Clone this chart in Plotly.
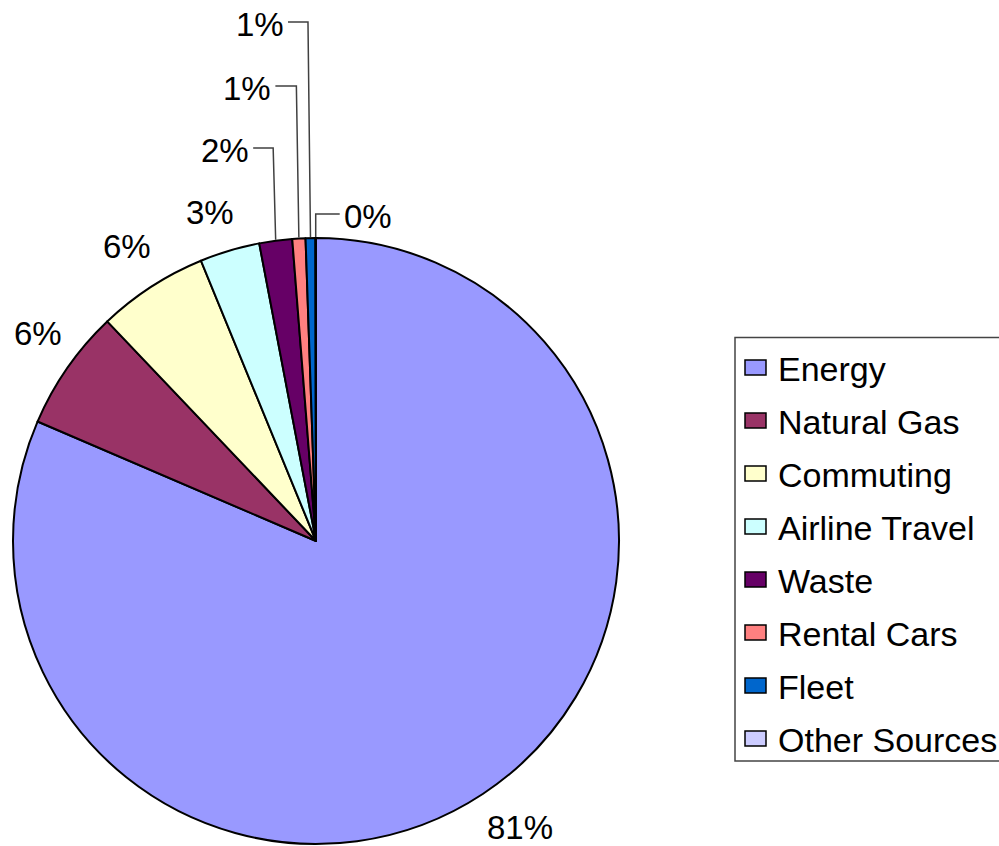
import math
import plotly.graph_objects as go

# ---- data ----
categories = ["Energy", "Natural Gas", "Commuting", "Airline Travel", "Waste",
              "Rental Cars", "Fleet", "Other Sources"]
values = [81.45, 6.45, 5.9, 3.2, 1.75, 0.7, 0.52, 0.03]
colors = ["#9999FF", "#993366", "#FFFFCC", "#CCFFFF", "#660066",
          "#FF8080", "#0066CC", "#CCCCFF"]

# ---- layout constants (pixels) ----
W, H = 999, 846
CX, CY, R = 316, 541, 303
FONT = "Liberation Sans, Arial, sans-serif"
LABEL_R = 352
LABEL_SIZE = 33
# pixel nudges of outside labels (layout only)
label_nudge = {"Energy": (10, -7), "Natural Gas": (11, -6),
               "Commuting": (2, 1), "Airline Travel": (-6, 9)}
# callout labels for small slices: (elbow y, horizontal run, side)
callouts = {
    "Waste": (148, 20, -1),
    "Rental Cars": (86, 21, -1),
    "Fleet": (22, 20, -1),
    "Other Sources": (214, 24, 1),
}
# legend box geometry (pixels); the box runs off the right edge
LEG_X0, LEG_Y0, LEG_Y1 = 735, 337.5, 761
LEG_ROW0, LEG_STEP = 367.5, 53
LEG_SYM_X0, LEG_SYM_W, LEG_SYM_H = 745, 21, 15
LEG_TEXT_X, LEG_SIZE = 776, 34


def P(x, y):
    return x / W, 1 - y / H


fig = go.Figure()
fig.add_trace(go.Pie(
    labels=categories, values=values, sort=False, direction="clockwise",
    rotation=0, marker=dict(colors=colors, line=dict(color="black", width=2)),
    textinfo="none", hoverinfo="label+percent", showlegend=False,
    domain=dict(x=[(CX - R) / W, (CX + R) / W],
                y=[(H - CY - R) / H, (H - CY + R) / H]),
))

total = sum(values)
cum = 0.0
annotations = []
shapes = []
for name, v in zip(categories, values):
    mid = (cum + v / 2) / total * 2 * math.pi
    cum += v
    pct = f"{round(v / total * 100):.0f}%"
    s, c = math.sin(mid), math.cos(mid)
    if name in callouts:
        ey, run, side = callouts[name]
        ex, eyy = CX + R * s, CY - R * c
        bx = ex if side > 0 else ex - 2.5
        tx = bx + side * run
        pts = [(ex, eyy - 1), (bx, ey), (tx, ey)]
        path = "M " + " L ".join(f"{P(*p)[0]},{P(*p)[1]}" for p in pts)
        shapes.append(dict(type="path", xref="paper", yref="paper", path=path,
                           line=dict(color="#404040", width=1.5)))
        ax, ay = P(tx + side * 2, ey + 3)
        annotations.append(dict(x=ax, y=ay, xref="paper", yref="paper",
                                text=pct, showarrow=False,
                                xanchor="left" if side > 0 else "right",
                                yanchor="middle",
                                font=dict(size=LABEL_SIZE, color="black", family=FONT)))
    else:
        dx, dy = label_nudge.get(name, (0, 0))
        lx, ly = CX + LABEL_R * s + dx, CY - LABEL_R * c + dy
        ax, ay = P(lx, ly)
        annotations.append(dict(x=ax, y=ay, xref="paper", yref="paper",
                                text=pct, showarrow=False,
                                xanchor="center", yanchor="middle",
                                font=dict(size=LABEL_SIZE, color="black", family=FONT)))

# ---- legend drawn from the category / colour arrays ----
x0, y0 = P(LEG_X0, LEG_Y0)
_, y1 = P(LEG_X0, LEG_Y1)
shapes.append(dict(type="rect", xref="paper", yref="paper", x0=x0, x1=1,
                   y0=y1, y1=y0, line=dict(width=0),
                   fillcolor="white", layer="below"))
shapes.append(dict(type="path", xref="paper", yref="paper",
                   path=f"M 1,{y0} L {x0},{y0} L {x0},{y1} L 1,{y1}",
                   line=dict(color="#444444", width=1.5)))
for i, (name, col) in enumerate(zip(categories, colors)):
    yc = LEG_ROW0 + i * LEG_STEP
    sx0, sy0 = P(LEG_SYM_X0, yc - LEG_SYM_H / 2)
    sx1, sy1 = P(LEG_SYM_X0 + LEG_SYM_W, yc + LEG_SYM_H / 2)
    shapes.append(dict(type="rect", xref="paper", yref="paper",
                       x0=sx0, x1=sx1, y0=sy1, y1=sy0, fillcolor=col,
                       line=dict(color="black", width=1.5)))
    tx, ty = P(LEG_TEXT_X, yc + 1.5)
    annotations.append(dict(x=tx, y=ty, xref="paper", yref="paper",
                            text=name, showarrow=False, xanchor="left",
                            yanchor="middle",
                            font=dict(size=LEG_SIZE, color="black", family=FONT)))

fig.update_layout(
    width=W, height=H,
    margin=dict(l=0, r=0, t=0, b=0),
    paper_bgcolor="white", plot_bgcolor="white",
    showlegend=False,
    annotations=annotations, shapes=shapes,
    font=dict(family=FONT),
)

fig.write_html("out.html", config={"displayModeBar": False},
               post_script="document.body.style.margin='0';"
                           "document.body.style.overflow='hidden';")
